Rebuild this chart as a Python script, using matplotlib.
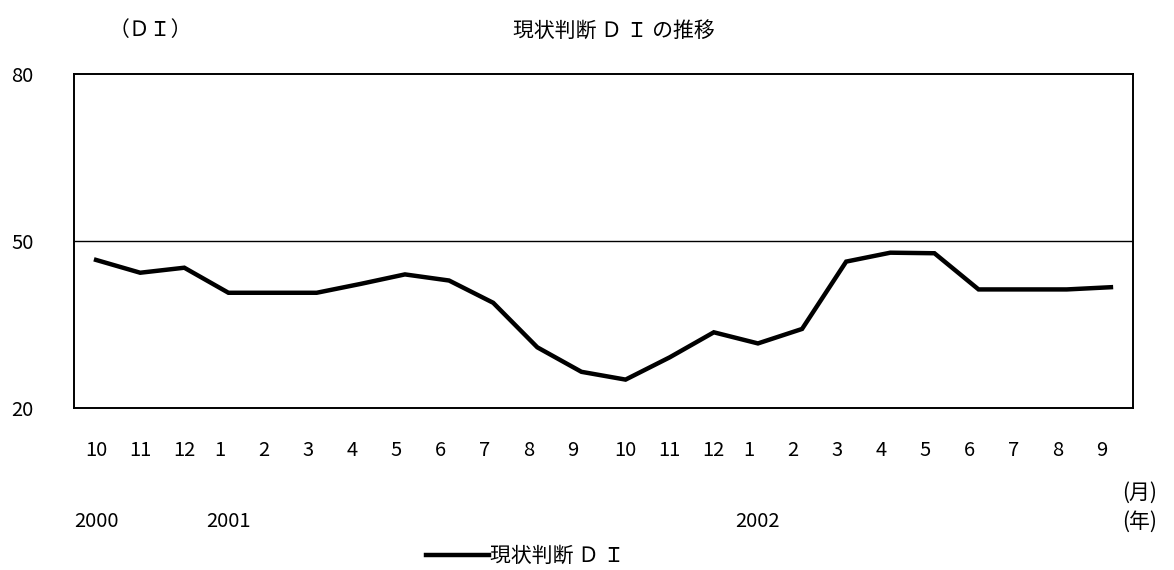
import matplotlib.pyplot as plt
import matplotlib.transforms as mtransforms
from matplotlib.lines import Line2D

plt.rcParams['font.family'] = ['Noto Sans CJK JP', 'DejaVu Sans']

# data
months = ['10', '11', '12', '1', '2', '3', '4', '5', '6', '7', '8', '9',
          '10', '11', '12', '1', '2', '3', '4', '5', '6', '7', '8', '9']
di_values = [46.6, 44.3, 45.2, 40.7, 40.7, 40.7, 42.3, 44.0, 42.9, 38.9, 30.9, 26.5,
             25.1, 29.1, 33.6, 31.6, 34.2, 46.3, 47.9, 47.8, 41.3, 41.3, 41.3, 41.7]
years = ['2000', '2001', '2002']
year_pos = [0, 3, 15]
yticks = [20, 50, 80]

num_fs = 14.5
jp_fs = 15

fig = plt.figure(figsize=(11.74, 5.70), dpi=100)
ax = fig.add_axes([74 / 1174, 1 - 408 / 570, (1133 - 74) / 1174, (408 - 74) / 570])

x = list(range(len(di_values)))
ax.plot(x, di_values, color='black', lw=3.2, solid_joinstyle='miter')
ax.axhline(50, color='black', lw=1.0)

ax.set_xlim(-0.5, len(di_values) - 0.5)
ax.set_ylim(20, 80)
ax.set_yticks(yticks)
ax.set_yticklabels([str(v) for v in yticks], fontsize=num_fs)
ax.set_xticks(x)
ax.set_xticklabels(months, fontsize=num_fs)
ax.tick_params(axis='both', length=0)
ax.tick_params(axis='x', pad=23)
ax.tick_params(axis='y', pad=45)
for lab in ax.get_yticklabels():
    lab.set_horizontalalignment('left')
# single digit month labels sit a little left of their point
shift = mtransforms.ScaledTranslation(-9 / 100, 0, fig.dpi_scale_trans)
for lab in ax.get_xticklabels():
    if len(lab.get_text()) == 1:
        lab.set_transform(lab.get_transform() + shift)
for sp in ax.spines.values():
    sp.set_linewidth(1.4)

# year labels below month labels
trans = ax.get_xaxis_transform()
for pos, yr in zip(year_pos, years):
    ax.text(pos, -0.34, yr, transform=trans, ha='center', va='center', fontsize=num_fs)

fig.text(1122 / 1174, 1 - 493 / 570, '(月)', ha='left', va='center', fontsize=jp_fs)
fig.text(1122 / 1174, 1 - 522 / 570, '(年)', ha='left', va='center', fontsize=jp_fs)

fig.text(150 / 1174, 1 - 30 / 570, '（ＤＩ）', ha='center', va='center', fontsize=jp_fs)
fig.text(614 / 1174, 1 - 32 / 570, '現状判断 Ｄ Ｉ の推移', ha='center', va='center', fontsize=jp_fs)

handle = Line2D([], [], color='black', lw=3.2)
fig.legend([handle], ['現状判断 Ｄ Ｉ'], loc='center left',
           bbox_to_anchor=(426 / 1174, 1 - 556 / 570), frameon=False,
           handlelength=3.0, handletextpad=0.05, fontsize=jp_fs,
           borderaxespad=0, borderpad=0)

fig.savefig('out.png', dpi=100)
